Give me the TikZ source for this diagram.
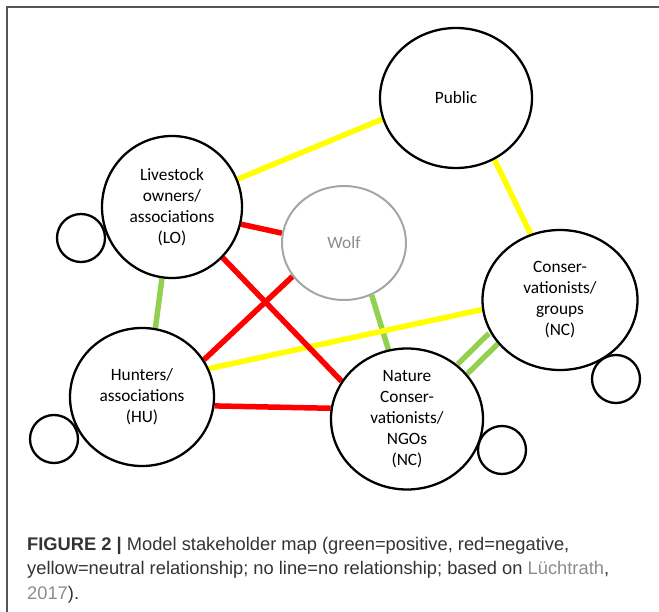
\documentclass[tikz,border=0pt]{standalone}
\usepackage{fontspec}
\setmainfont{Carlito}
\newfontfamily\capfont{Liberation Sans}
\usetikzlibrary{shapes.geometric,backgrounds}
\definecolor{lgreen}{HTML}{92D050}
\definecolor{pyellow}{HTML}{FFFF00}
\definecolor{pred}{HTML}{FF0000}
\definecolor{wgray}{HTML}{A6A6A6}
\definecolor{wtext}{HTML}{8C8C8C}
\definecolor{capgray}{HTML}{333333}
\definecolor{linkgray}{HTML}{8C8C8C}
\definecolor{framegray}{HTML}{555555}
\begin{document}
\begin{tikzpicture}[x=1pt,y=-1pt,
  stake/.style={ellipse,draw=black,line width=2.3pt,fill=white,inner sep=0pt,align=center,font=\fontsize{17.3}{21}\selectfont},
  smallc/.style={circle,draw=black,line width=2.3pt,fill=white,minimum size=48pt,inner sep=0pt},
  rel/.style={line width=5.5pt},
  posrel/.style={rel,draw=lgreen},
  negrel/.style={rel,draw=pred},
  neurel/.style={rel,draw=pyellow},
  captext/.style={anchor=base west,inner sep=0pt,font=\capfont\fontsize{18.3}{24}\selectfont,text=capgray}]
\useasboundingbox (0,0) rectangle (659,612);
\draw[framegray,line width=1.5pt] (7,612) -- (7,7) -- (659,7);

% small circles (behind the large ones)
\node[smallc] (LOs) at (81,238) {};
\node[smallc] (HUs) at (54,439) {};
\node[smallc] (CGs) at (616,379) {};
\node[smallc] (NCs) at (502,450) {};

% stakeholders
\node[stake,minimum width=152pt,minimum height=140pt] (PU) at (456,98) {Public};
\node[stake,minimum width=140pt,minimum height=142pt] (LO) at (172,207) {Livestock\\owners/\\associations\\(LO)};
\node[stake,minimum width=144pt,minimum height=138pt] (HU) at (142,397) {Hunters/\\associations\\(HU)};
\node[stake,draw=wgray,text=wtext,line width=2pt,minimum width=124pt,minimum height=114pt] (WO) at (344,243) {Wolf};
\node[stake,minimum width=155pt,minimum height=140pt] (CG) at (560,300) {Conser-\\vationists/\\groups\\(NC)};
\node[stake,minimum width=152pt,minimum height=141pt] (NC) at (407,419) {Nature\\Conser-\\vationists/\\NGOs\\(NC)};

% relationships
\begin{scope}[on background layer]
\draw[posrel] (LO.262) -- (HU.79);
\draw[posrel] (WO.298) -- (NC.105);
\draw[lgreen,line width=5.5pt,double=white,double distance=8pt] (NC.42) -- (CG.210);
\draw[neurel] (LO.23) -- (PU.196);
\draw[neurel] (HU.23) -- (CG.187);
\draw[neurel] (PU.-58) -- (CG.114);
\draw[negrel] (LO.-14) -- (WO.171);
\draw[negrel] (LO.-45) -- (NC.150);
\draw[negrel] (HU.31) -- (WO.213);
\draw[negrel] (HU.-7) -- (NC.172);
\end{scope}

% caption
\node[captext] (cap1) at (27,550) {\textbf{FIGURE 2 |} Model stakeholder map (green=positive, red=negative,};
\node[captext] (cap2) at (27,574.5) {yellow=neutral relationship; no line=no relationship; based on \textcolor{linkgray}{Lüchtrath},};
\node[captext] (cap3) at (27,599) {\textcolor{linkgray}{2017}).};
\end{tikzpicture}
\end{document}
